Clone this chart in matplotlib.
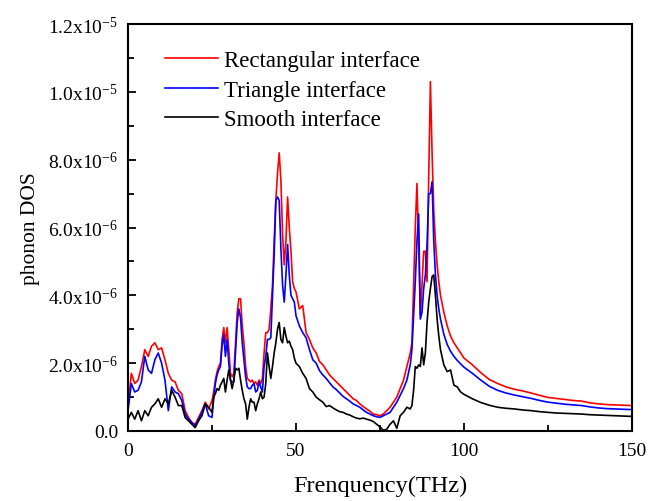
import numpy as np
import matplotlib
matplotlib.use("Agg")
import matplotlib.pyplot as plt
from matplotlib.ticker import FixedLocator

plt.rcParams['font.family'] = ['Liberation Serif', 'DejaVu Serif']
plt.rcParams['mathtext.fontset'] = 'custom'
plt.rcParams['mathtext.rm'] = 'Liberation Serif'
plt.rcParams['mathtext.it'] = 'Liberation Serif:italic'

# frequency grid (THz)
freq = np.concatenate([
    np.arange(0, 25, 1.0),
    np.arange(25, 50.5, 0.5),
    np.arange(51, 84, 1.0),
    np.arange(84, 93.5, 0.5),
    np.arange(94, 100, 1.0),
    np.arange(100, 150.1, 2.5),
])

# phonon DOS values in units of 1e-6
rect = [
    0.7, 1.7, 1.4, 1.5, 1.9, 2.4, 2.2, 2.5, 2.6, 2.4, 2.45, 2.1, 1.7, 1.5, 1.45, 1.2, 1.1, 0.6, 0.4, 0.25, 0.2, 0.4, 0.6, 0.85, 0.65,
    0.9, 1.15, 1.5, 1.75, 1.9, 2.0, 2.7, 3.05, 2.6, 3.05, 2.4, 1.7, 1.6, 1.7, 2.6, 3.5, 3.9, 3.9, 3.1, 2.6, 1.9, 1.55, 1.5, 1.45, 1.5, 1.4,
    1.45, 1.35, 1.5, 1.4, 1.55, 2.3, 2.9, 2.9, 3.0, 3.6, 4.3, 5.6, 6.8, 7.6, 8.2, 7.4, 5.8, 4.9, 5.6, 6.9, 6.0, 5.3, 4.4, 4.2, 4.1,
    3.6, 3.7, 2.9, 2.7, 2.45, 2.3, 2.05, 1.95, 1.8, 1.65, 1.55, 1.45, 1.35, 1.25, 1.15, 1.05, 0.95, 0.9, 0.8, 0.72, 0.65, 0.58, 0.5,
    0.48, 0.45, 0.5, 0.6, 0.7, 0.85, 1.0, 1.25, 1.5, 1.9,
    2.3, 2.6, 4.3, 6.0, 7.3, 5.5, 3.4, 4.3, 5.3, 5.3, 4.4, 7.5, 10.3, 8.2, 6.5, 5.6, 4.9, 4.4, 4.0,
    3.5, 3.1, 2.8, 2.6, 2.45, 2.3,
    2.15, 1.95, 1.72, 1.52, 1.4, 1.3, 1.23, 1.18, 1.12, 1.05, 0.99, 0.96, 0.93, 0.9, 0.88, 0.83, 0.8, 0.78, 0.77, 0.76, 0.75,
]
tri = [
    0.6, 1.4, 1.15, 1.2, 1.45, 2.2, 1.8, 1.7, 2.1, 2.3, 2.0, 1.5, 0.6, 1.3, 1.15, 1.1, 0.9, 0.5, 0.35, 0.25, 0.15, 0.35, 0.55, 0.8, 0.45,
    0.4, 0.95, 1.4, 1.65, 1.8, 1.9, 2.5, 2.85, 2.2, 2.7, 2.0, 1.5, 1.45, 1.45, 2.3, 3.2, 3.6, 3.35, 2.6, 2.1, 1.6, 1.3, 1.25, 1.25, 1.35, 1.4,
    1.15, 1.2, 1.45, 1.3, 1.15, 1.9, 2.2, 2.7, 2.7, 2.75, 4.0, 5.2, 6.8, 6.9, 6.8, 5.4, 4.3, 3.8, 4.6, 5.5, 4.6, 4.0, 3.9, 3.8, 3.4,
    3.1, 2.9, 2.75, 2.4, 2.1, 2.0, 1.78, 1.65, 1.55, 1.42, 1.3, 1.22, 1.12, 1.02, 0.95, 0.88, 0.8, 0.75, 0.7, 0.62, 0.55, 0.5, 0.45,
    0.42, 0.4, 0.45, 0.5, 0.55, 0.7, 0.85, 1.05, 1.25, 1.5,
    1.95, 2.4, 3.4, 4.4, 5.6, 6.4, 3.3, 3.5, 4.2, 4.6, 5.5, 7.0, 7.0, 7.35, 5.6, 4.6, 4.0, 3.6, 3.3,
    2.85, 2.55, 2.35, 2.2, 2.08, 1.98,
    1.88, 1.7, 1.5, 1.32, 1.2, 1.12, 1.06, 1.01, 0.96, 0.9, 0.85, 0.82, 0.79, 0.77, 0.75, 0.71, 0.68, 0.66, 0.65, 0.64, 0.63,
]
smooth = [
    0.35, 0.55, 0.35, 0.6, 0.3, 0.6, 0.45, 0.7, 0.8, 0.95, 0.7, 0.95, 0.8, 1.2, 1.0, 0.75, 0.75, 0.4, 0.3, 0.2, 0.1, 0.3, 0.45, 0.8, 0.7,
    0.55, 1.0, 1.1, 1.25, 1.2, 1.35, 1.45, 1.55, 1.15, 1.5, 1.8, 1.5, 1.25, 1.5, 1.85, 1.8, 1.85, 1.5, 1.2, 0.95, 0.8, 0.35, 0.7, 0.95, 0.85,
    0.85, 0.6, 0.8, 0.95, 1.15, 0.95, 1.0, 1.4, 2.3, 1.9, 1.55, 1.9, 2.3, 2.6, 3.0, 3.2, 2.7, 2.6, 3.05, 2.8, 2.6, 2.65, 2.5, 2.4, 2.15, 2.0,
    1.9, 1.7, 1.55, 1.25, 1.15, 1.0, 0.92, 0.85, 0.72, 0.75, 0.68, 0.62, 0.57, 0.55, 0.5, 0.47, 0.42, 0.38, 0.36, 0.38, 0.35, 0.32, 0.28,
    0.2, 0.12, 0.02, 0.05, 0.2, 0.3, 0.08, 0.45, 0.55, 0.7,
    0.65, 0.75, 1.2, 1.9, 1.85, 1.95, 1.9, 2.45, 1.95, 2.3, 3.2, 3.8, 4.2, 4.55, 4.6, 4.0, 3.3, 2.8, 2.4,
    1.95, 1.75, 1.8, 1.35, 1.3, 1.15,
    1.08, 0.95, 0.84, 0.76, 0.7, 0.67, 0.65, 0.62, 0.6, 0.57, 0.55, 0.53, 0.52, 0.51, 0.5, 0.48, 0.47, 0.46, 0.45, 0.44, 0.43,
]

labels = ["Rectangular interface", "Triangle interface", "Smooth interface"]
colors = ["#ff0000", "#0000ff", "#000000"]

y_ticks = [0, 2e-6, 4e-6, 6e-6, 8e-6, 1.0e-5, 1.2e-5]
y_ticklabels = ["0.0", r"2.0x10$^{-6}$", r"4.0x10$^{-6}$", r"6.0x10$^{-6}$",
                r"8.0x10$^{-6}$", r"1.0x10$^{-5}$", r"1.2x10$^{-5}$"]
x_ticks = [0, 50, 100, 150]

fig = plt.figure(figsize=(6.49, 5.02), dpi=100)
ax = fig.add_axes([128/649, 1-432/502, 504/649, 407/502])

for ys, lab, c in zip([rect, tri, smooth], labels, colors):
    ax.plot(freq, np.array(ys) * 1e-6, color=c, lw=1.2, label=lab)

ax.set_xlim(0, 150)
ax.set_ylim(0, 1.2e-5)
ax.xaxis.set_major_locator(FixedLocator(x_ticks))
ax.xaxis.set_minor_locator(FixedLocator([25, 75, 125]))
ax.yaxis.set_major_locator(FixedLocator(y_ticks))
ax.yaxis.set_minor_locator(FixedLocator([1e-6, 3e-6, 5e-6, 7e-6, 9e-6, 1.1e-5]))
ax.set_yticklabels(y_ticklabels)
ax.set_xticklabels([str(v) for v in x_ticks])

ax.tick_params(which='both', direction='in', width=1.3, labelsize=14, top=False, right=False)
ax.tick_params(which='major', length=6)
ax.tick_params(axis='y', which='major', pad=7)
ax.tick_params(axis='x', which='major', pad=8)
ax.tick_params(which='minor', length=4)
for s in ax.spines.values():
    s.set_linewidth(1.5)

ax.set_xlabel("Frenquency(THz)", fontsize=17.5, labelpad=11)
ax.set_ylabel("phonon DOS", fontsize=15.5, labelpad=6)

leg = ax.legend(loc='upper left', bbox_to_anchor=(0.073, 0.935), frameon=False,
                fontsize=16.5, handlelength=2.3, handletextpad=0.3, labelspacing=0.36,
                borderpad=0, borderaxespad=0)

fig.savefig("out.png", dpi=100)
